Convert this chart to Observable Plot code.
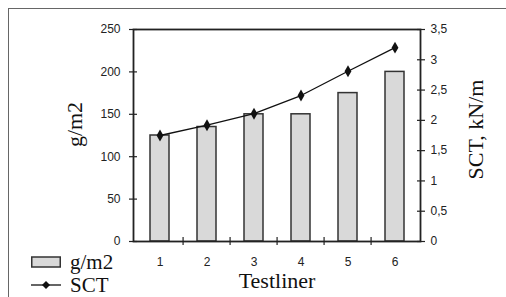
<!DOCTYPE html>
<html>
<head>
<meta charset="utf-8">
<script src="https://cdn.jsdelivr.net/npm/d3@7"></script>
<script src="https://cdn.jsdelivr.net/npm/@observablehq/plot@0.6"></script>
<style>
  html, body { margin: 0; padding: 0; background: #fff; }
  #wrap { position: relative; width: 506px; height: 297px; overflow: hidden; }
  #outer { position: absolute; left: 8px; top: 8px; width: 510px; height: 300px;
           border-top: 1.5px solid #666; border-left: 1.5px solid #666; pointer-events: none; }
  #chart { position: absolute; left: 0; top: 0; }
  .leg { position: absolute; left: 31px; height: 20px; line-height: 20px;
         font-family: "Liberation Serif", "Times New Roman", serif;
         font-size: 21px; color: #111; display: flex; align-items: center; }
  .leg svg { margin-right: 9px; }
</style>
</head>
<body>
<div id="wrap">
  <div id="outer"></div>
  <div id="chart"></div>
  <div class="leg" style="top:252px">
    <svg width="30" height="12"><rect x="0.75" y="1" width="28.5" height="10" fill="#d9d9d9" stroke="#333" stroke-width="1.5"/></svg>g/m2
  </div>
  <div class="leg" style="top:275px">
    <svg width="30" height="12"><line x1="0" y1="6" x2="30" y2="6" stroke="#111" stroke-width="1.3"/><path d="M15,2 L19,6 L15,10 L11,6 Z" fill="#111"/></svg>SCT
  </div>
</div>
<script>
const categories = ["1", "2", "3", "4", "5", "6"];
const gsm = [125, 135, 150, 150, 175, 200];
const sct = [1.75, 1.92, 2.11, 2.41, 2.81, 3.2];
const leftTicks = [0, 50, 100, 150, 200, 250];
const rightTicks = [0, 0.5, 1, 1.5, 2, 2.5, 3, 3.5];
const leftMax = 250, rightMax = 3.5;
const xTitle = "Testliner", yLeftTitle = "g/m2", yRightTitle = "SCT, kN/m";

const k = leftMax / rightMax;
const data = categories.map((c, i) => ({cat: c, g: gsm[i], s: sct[i]}));

const W = 506, H = 297, mL = 133, mR = 86, mT = 29, mB = 56;
const step = (W - mL - mR) / categories.length;
const fmt = v => String(Math.round(v * 10) / 10).replace(".", ",");
const serif = "Liberation Serif, Times New Roman, serif";

const chart = Plot.plot({
  width: W, height: H,
  marginLeft: mL, marginRight: mR, marginTop: mT, marginBottom: mB,
  style: {fontFamily: "Liberation Sans, Arial, sans-serif", fontSize: "12px", color: "#222", background: "transparent"},
  x: {type: "band", domain: categories, padding: 0, label: null},
  y: {domain: [0, leftMax], label: null},
  marks: [
    Plot.barY(data, {x: "cat", y: "g", fill: "#d9d9d9", stroke: "#333", strokeWidth: 1.5, insetLeft: 14, insetRight: 14}),
    Plot.frame({stroke: "#222", strokeWidth: 1.8}),
    Plot.lineY(data, {x: "cat", y: d => d.s * k, stroke: "#111", strokeWidth: 1.3}),
    Plot.dot(data, {x: "cat", y: d => d.s * k, symbol: "diamond", r: 3.6, fill: "#111", stroke: "none"}),
    Plot.axisY(leftTicks, {anchor: "left", tickSize: 8, dx: 4, text: null, label: null, strokeWidth: 1.2}),
    Plot.axisY(leftTicks, {anchor: "left", tickSize: 0, tickPadding: 13, label: null, fill: "#222"}),
    Plot.axisY(rightTicks.map(v => v * k), {anchor: "right", tickSize: 8, dx: -4, text: null, label: null, strokeWidth: 1.2}),
    Plot.axisY(rightTicks.map(v => v * k), {anchor: "right", tickSize: 0, tickPadding: 10, label: null, tickFormat: v => fmt(v / k), fill: "#222"}),
    Plot.axisX(categories.slice(1), {anchor: "bottom", tickSize: 8, dy: -4, dx: -step / 2, text: null, label: null, strokeWidth: 1.2}),
    Plot.axisX({anchor: "bottom", tickSize: 0, tickPadding: 16, label: null, fill: "#222"}),
    Plot.text([xTitle], {frameAnchor: "bottom", textAnchor: "middle", dy: 46, fontSize: 22, fontFamily: serif, fill: "#111"}),
    Plot.text([yLeftTitle], {frameAnchor: "left", textAnchor: "middle", dx: -59, dy: -11, rotate: -90, fontSize: 22, fontFamily: serif, fill: "#111"}),
    Plot.text([yRightTitle], {frameAnchor: "right", textAnchor: "middle", dx: 55, dy: -6, rotate: -90, fontSize: 22, fontFamily: serif, fill: "#111", style: "letter-spacing:1.5px"})
  ]
});
document.getElementById("chart").appendChild(chart);
</script>
</body>
</html>
